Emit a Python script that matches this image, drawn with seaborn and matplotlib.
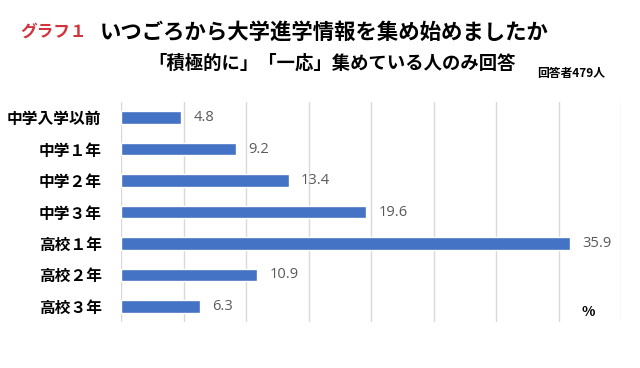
import pandas as pd
import matplotlib
matplotlib.use("Agg")
import matplotlib.pyplot as plt
import seaborn as sns

# data
categories = ["中学入学以前", "中学１年", "中学２年", "中学３年", "高校１年", "高校２年", "高校３年"]
values = [4.8, 9.2, 13.4, 19.6, 35.9, 10.9, 6.3]

df = pd.DataFrame({"時期": categories, "割合": values})

sns.set_theme(style="white")
plt.rcParams["font.family"] = ["Noto Sans CJK JP", "DejaVu Sans"]

fig = plt.figure(figsize=(6.4, 3.68), dpi=100)
ax = fig.add_axes([121 / 640, 1 - 322 / 368, 500 / 640, 220 / 368])

sns.barplot(data=df, x="割合", y="時期", color="#4472C4", width=0.4,
            saturation=1, ax=ax)

ax.set_xlim(0, 40)
ax.set_xticks(range(0, 41, 5))
ax.xaxis.grid(True, color="#D9D9D9", linewidth=1)
ax.set_axisbelow(True)
ax.tick_params(axis="x", length=0, labelbottom=False)
ax.tick_params(axis="y", length=0, pad=14)
for lab in ax.get_yticklabels():
    lab.set_fontweight("bold")
    lab.set_fontsize(11.3)
    lab.set_color("black")
ax.set_xlabel("")
ax.set_ylabel("")
for s in ax.spines.values():
    s.set_visible(False)

# value labels
for cont in ax.containers:
    ax.bar_label(cont, labels=[f"{v:.1f}" for v in values], padding=9,
                 fontsize=10.5, color="#595959", family=["Open Sans", "DejaVu Sans"])

# titles
fig.text(20 / 640, 1 - 32 / 368, "グラフ１", color="#D0343C", fontsize=12,
         fontweight="bold", va="center", ha="left")
fig.text(100 / 640, 1 - 32 / 368, "いつごろから大学進学情報を集め始めましたか",
         color="black", fontsize=15.4, fontweight="bold", va="center", ha="left")
fig.text(148 / 640, 1 - 63 / 368, "「積極的に」「一応」集めている人のみ回答",
         color="black", fontsize=13.2, fontweight="bold", va="center", ha="left")
fig.text(537 / 640, 1 - 73 / 368, "回答者479人", color="black", fontsize=8.5,
         fontweight="bold", va="center", ha="left")
fig.text(588 / 640, 1 - 312 / 368, "%", color="black", fontsize=10,
         fontweight="bold", va="center", ha="center")

fig.savefig("out.png", dpi=100)
